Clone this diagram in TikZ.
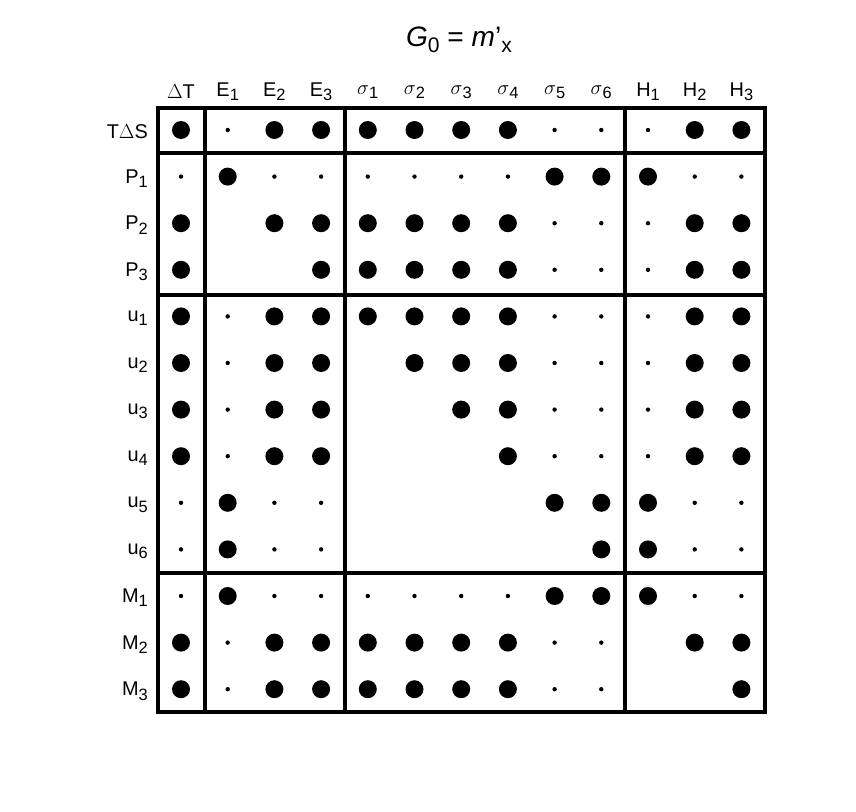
\documentclass[tikz,border=0pt]{standalone}
\usepackage{fontspec}
\setmainfont{Liberation Sans}
\newcommand{\lowsub}[1]{\raisebox{-0.4ex}{\fontsize{14}{16}\selectfont #1}}
\begin{document}
\begin{tikzpicture}[x=0.03cm,y=-0.03cm,
    lab/.style={font=\fontsize{17}{20}\selectfont},
    frame/.style={line width=2.6pt}]
  \useasboundingbox (0,0) rectangle (856,812);
  \node[font=\fontsize{24}{28}\selectfont] (title) at (459,40) {\textit{G}\lowsub{\fontsize{18}{20}\selectfont 0} = \textit{m}'\lowsub{\fontsize{18}{20}\selectfont x}};
  % column labels
  \foreach \t [count=\i] in {$\Delta$T,E\lowsub{1},E\lowsub{2},E\lowsub{3},$\sigma$\lowsub{1},$\sigma$\lowsub{2},$\sigma$\lowsub{3},$\sigma$\lowsub{4},$\sigma$\lowsub{5},$\sigma$\lowsub{6},H\lowsub{1},H\lowsub{2},H\lowsub{3}}
    \node[lab] (c\i) at ({181+46.7*(\i-1)},92) {\t};
  % rows and dots
  \foreach \t/\vals [count=\j] in {
      T$\Delta$S/{2,1,2,2,2,2,2,2,1,1,1,2,2},
      P\lowsub{1}/{1,2,1,1,1,1,1,1,2,2,2,1,1},
      P\lowsub{2}/{2,0,2,2,2,2,2,2,1,1,1,2,2},
      P\lowsub{3}/{2,0,0,2,2,2,2,2,1,1,1,2,2},
      u\lowsub{1}/{2,1,2,2,2,2,2,2,1,1,1,2,2},
      u\lowsub{2}/{2,1,2,2,0,2,2,2,1,1,1,2,2},
      u\lowsub{3}/{2,1,2,2,0,0,2,2,1,1,1,2,2},
      u\lowsub{4}/{2,1,2,2,0,0,0,2,1,1,1,2,2},
      u\lowsub{5}/{1,2,1,1,0,0,0,0,2,2,2,1,1},
      u\lowsub{6}/{1,2,1,1,0,0,0,0,0,2,2,1,1},
      M\lowsub{1}/{1,2,1,1,1,1,1,1,2,2,2,1,1},
      M\lowsub{2}/{2,1,2,2,2,2,2,2,1,1,0,2,2},
      M\lowsub{3}/{2,1,2,2,2,2,2,2,1,1,0,0,2}} {
    \node[lab,anchor=east] (r\j) at (152,{132+46.6*(\j-1)}) {\t};
    \foreach \v [count=\i] in \vals {
      \ifnum\v=2 \fill ({181+46.7*(\i-1)},{130+46.6*(\j-1)}) circle (9); \fi
      \ifnum\v=1 \fill ({181+46.7*(\i-1)},{130+46.6*(\j-1)}) circle (2.2); \fi
    }
  }
  % block frame
  \draw[frame] (158,108) rectangle (765,712);
  \foreach \x in {205,345,625} \draw[frame] (\x,108) -- (\x,712);
  \foreach \y in {153,295,573} \draw[frame] (158,\y) -- (765,\y);
\end{tikzpicture}
\end{document}
